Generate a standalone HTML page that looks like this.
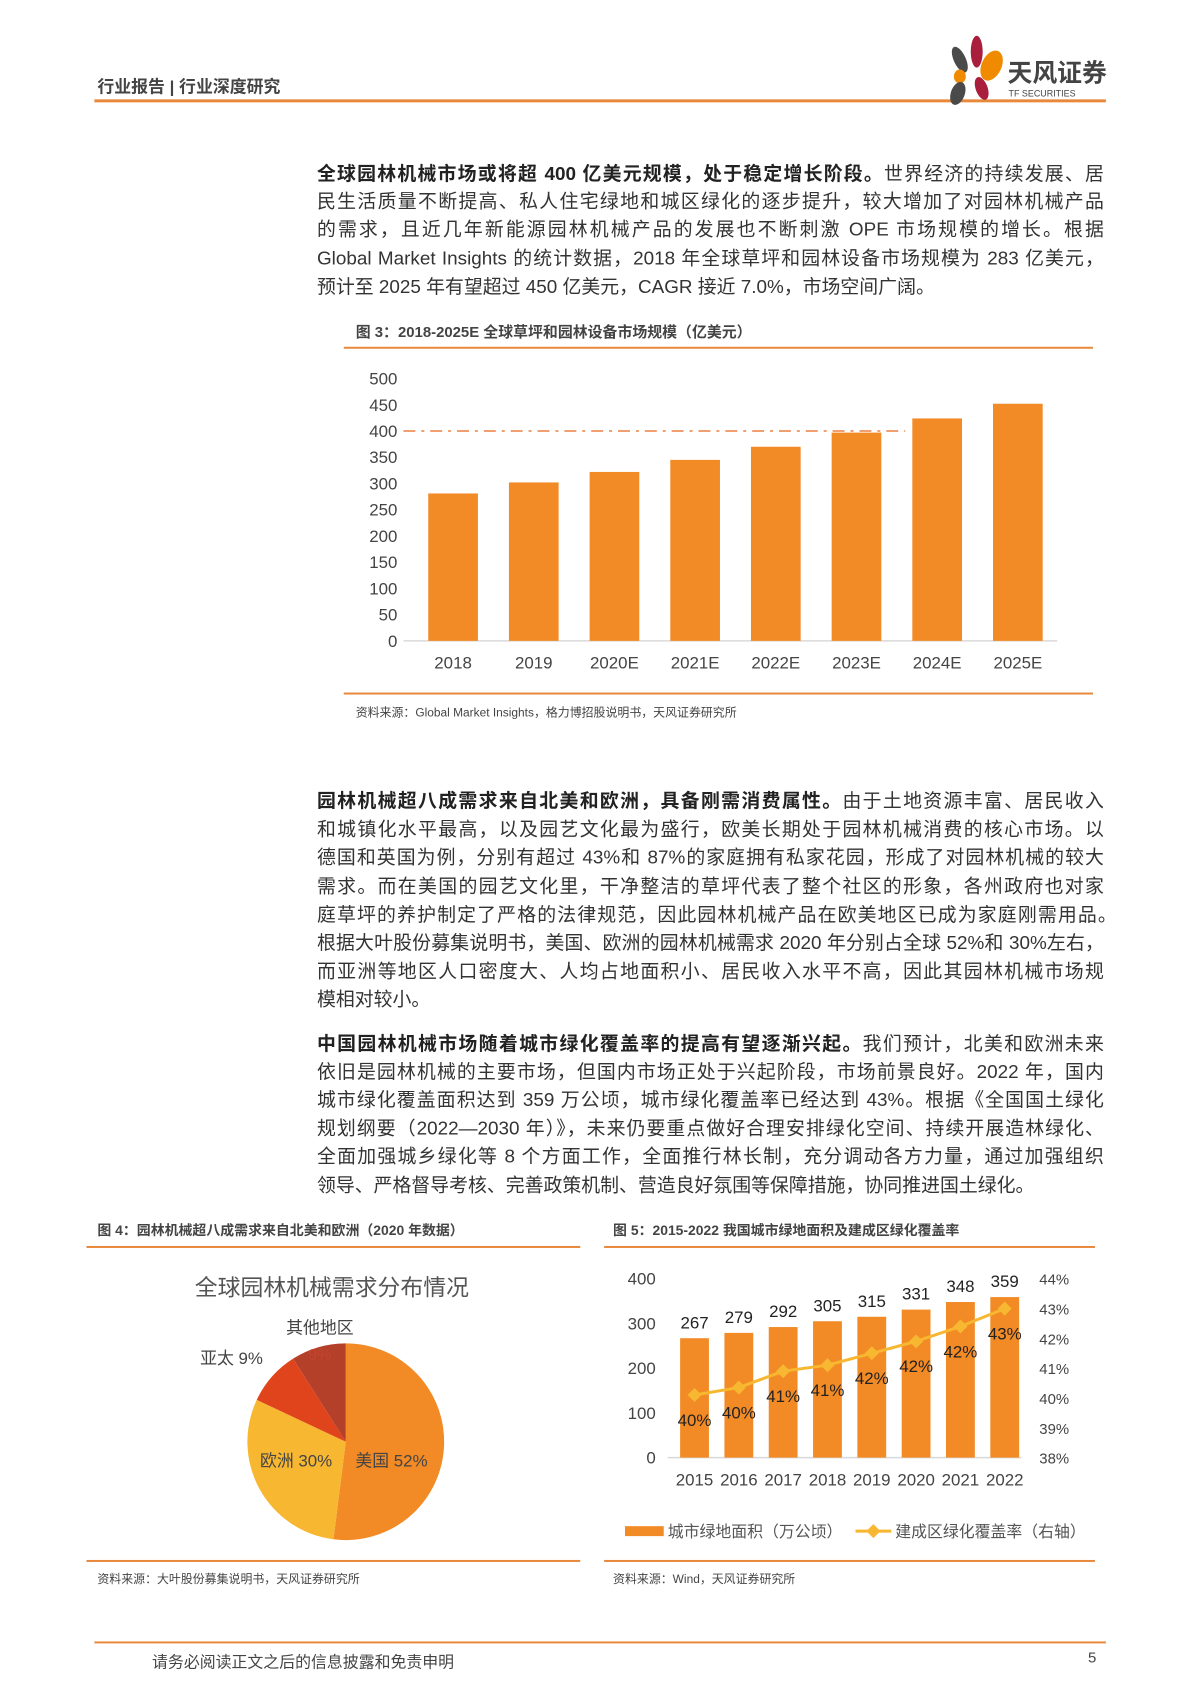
<!DOCTYPE html>
<html><head><meta charset="utf-8">
<style>
html,body{margin:0;padding:0;background:#fff;}
body{width:1200px;height:1698px;position:relative;overflow:hidden;font-family:"Liberation Sans","Noto Sans CJK SC",sans-serif;color:#333;}
#wrap{position:absolute;left:0;top:0;width:1200px;height:1698px;transform:scale(0.9936);transform-origin:0 0;}
.ln{position:absolute;left:319px;width:792px;height:28px;line-height:28px;font-size:19px;text-align:justify;text-align-last:justify;white-space:nowrap;}
.ln.last{text-align-last:left;}
b{font-weight:bold;color:#222;}
.abs{position:absolute;white-space:nowrap;}
svg{position:absolute;left:0;top:0;}
</style></head>
<body>
<div id="wrap">
<div class="abs" style="left:98px;top:73px;font-size:17px;font-weight:bold;color:#444;">行业报告 | 行业深度研究</div>
<div class="abs" style="left:95px;top:100px;width:1018px;height:3px;background:#E8883A;"></div>
<svg width="1200" height="120" style="pointer-events:none">
<ellipse cx="966" cy="60" rx="6" ry="14" fill="#4a4a4a" transform="rotate(-25 966 60)"/>
<ellipse cx="983" cy="52" rx="6" ry="16" fill="#A81E3C"/>
<ellipse cx="998" cy="66" rx="10" ry="16" fill="#F08A00" transform="rotate(25 998 66)"/>
<ellipse cx="966" cy="77" rx="6" ry="7" fill="#F08A00"/>
<ellipse cx="964" cy="94" rx="7" ry="12" fill="#4a4a4a" transform="rotate(20 964 94)"/>
<ellipse cx="988" cy="89" rx="6" ry="12" fill="#A81E3C" transform="rotate(-20 988 89)"/>
<text x="1014" y="82" font-size="25" font-weight="bold" fill="#444" font-family="Liberation Sans, Noto Sans CJK SC, sans-serif">天风证券</text>
<text x="1015" y="97" font-size="9" fill="#444" font-family="Liberation Sans, sans-serif">TF SECURITIES</text>
</svg>

<div>
<div class="ln" style="top:162px"><b>全球园林机械市场或将超 400 亿美元规模，处于稳定增长阶段。</b>世界经济的持续发展、居</div>
<div class="ln" style="top:190px">民生活质量不断提高、私人住宅绿地和城区绿化的逐步提升，较大增加了对园林机械产品</div>
<div class="ln" style="top:218px">的需求，且近几年新能源园林机械产品的发展也不断刺激 OPE 市场规模的增长。根据</div>
<div class="ln" style="top:247px">Global Market Insights 的统计数据，2018 年全球草坪和园林设备市场规模为 283 亿美元，</div>
<div class="ln last" style="top:276px">预计至 2025 年有望超过 450 亿美元，CAGR 接近 7.0%，市场空间广阔。</div>
</div>

<div class="abs" style="left:358px;top:323px;font-size:15px;font-weight:bold;color:#444;">图 3：2018-2025E 全球草坪和园林设备市场规模（亿美元）</div>
<div class="abs" style="left:346px;top:349px;width:754px;height:2px;background:#E8883A;"></div>
<div class="abs" style="left:346px;top:697px;width:754px;height:2px;background:#E8883A;"></div>
<div class="abs" style="left:358px;top:708px;font-size:12px;color:#444;">资料来源：Global Market Insights，格力博招股说明书，天风证券研究所</div>

<div>
<div class="ln" style="top:793px"><b>园林机械超八成需求来自北美和欧洲，具备刚需消费属性。</b>由于土地资源丰富、居民收入</div>
<div class="ln" style="top:822px">和城镇化水平最高，以及园艺文化最为盛行，欧美长期处于园林机械消费的核心市场。以</div>
<div class="ln" style="top:850px">德国和英国为例，分别有超过 43%和 87%的家庭拥有私家花园，形成了对园林机械的较大</div>
<div class="ln" style="top:879px">需求。而在美国的园艺文化里，干净整洁的草坪代表了整个社区的形象，各州政府也对家</div>
<div class="ln" style="top:908px;width:805px">庭草坪的养护制定了严格的法律规范，因此园林机械产品在欧美地区已成为家庭刚需用品。</div>
<div class="ln" style="top:936px">根据大叶股份募集说明书，美国、欧洲的园林机械需求 2020 年分别占全球 52%和 30%左右，</div>
<div class="ln" style="top:965px">而亚洲等地区人口密度大、人均占地面积小、居民收入水平不高，因此其园林机械市场规</div>
<div class="ln last" style="top:993px">模相对较小。</div>
</div>

<div>
<div class="ln" style="top:1038px"><b>中国园林机械市场随着城市绿化覆盖率的提高有望逐渐兴起。</b>我们预计，北美和欧洲未来</div>
<div class="ln" style="top:1066px">依旧是园林机械的主要市场，但国内市场正处于兴起阶段，市场前景良好。2022 年，国内</div>
<div class="ln" style="top:1094px">城市绿化覆盖面积达到 359 万公顷，城市绿化覆盖率已经达到 43%。根据《全国国土绿化</div>
<div class="ln" style="top:1123px">规划纲要（2022—2030 年）》，未来仍要重点做好合理安排绿化空间、持续开展造林绿化、</div>
<div class="ln" style="top:1151px">全面加强城乡绿化等 8 个方面工作，全面推行林长制，充分调动各方力量，通过加强组织</div>
<div class="ln last" style="top:1180px">领导、严格督导考核、完善政策机制、营造良好氛围等保障措施，协同推进国土绿化。</div>
</div>

<div class="abs" style="left:98px;top:1228px;font-size:14px;font-weight:bold;color:#444;">图 4：园林机械超八成需求来自北美和欧洲（2020 年数据）</div>
<div class="abs" style="left:87px;top:1254px;width:497px;height:2px;background:#E8883A;"></div>
<div class="abs" style="left:617px;top:1228px;font-size:14px;font-weight:bold;color:#444;">图 5：2015-2022 我国城市绿地面积及建成区绿化覆盖率</div>
<div class="abs" style="left:608px;top:1254px;width:494px;height:2px;background:#E8883A;"></div>
<div class="abs" style="left:87px;top:1570px;width:497px;height:2px;background:#E8883A;"></div>
<div class="abs" style="left:608px;top:1570px;width:494px;height:2px;background:#E8883A;"></div>
<div class="abs" style="left:98px;top:1580px;font-size:12px;color:#444;">资料来源：大叶股份募集说明书，天风证券研究所</div>
<div class="abs" style="left:617px;top:1580px;font-size:12px;color:#444;">资料来源：Wind，天风证券研究所</div>

<div class="abs" style="left:95px;top:1652px;width:1018px;height:2px;background:#E8883A;"></div>
<div class="abs" style="left:153px;top:1659px;font-size:16px;color:#444;">请务必阅读正文之后的信息披露和免责申明</div>
<div class="abs" style="left:1095px;top:1660px;font-size:15px;color:#444;">5</div>

<svg id="charts" width="1200" height="1698" font-family="Liberation Sans, Noto Sans CJK SC, sans-serif"></svg>
</div>

<script>
// Figure 3 data
const f3Categories = ["2018","2019","2020E","2021E","2022E","2023E","2024E","2025E"];
const f3Values = [281, 302, 322, 345, 370, 397, 424, 452];
const f3Ticks = [0,50,100,150,200,250,300,350,400,450,500];
const f3RefLine = 400;
// Figure 4 data
const f4Labels = ["美国","欧洲","亚太","其他地区"];
const f4Values = [52, 30, 9, 9];
// Figure 5 data
const f5Categories = ["2015","2016","2017","2018","2019","2020","2021","2022"];
const f5Area = [267, 279, 292, 305, 315, 331, 348, 359];
const f5Rate = [40.1, 40.35, 40.9, 41.1, 41.5, 41.9, 42.4, 43.0];
const f5LeftTicks = [0,100,200,300,400];
const f5RightTicks = [38,39,40,41,42,43,44];

const svg = document.getElementById('charts');
const NS = 'http://www.w3.org/2000/svg';
function mk(tag, attrs, parent){const e=document.createElementNS(NS,tag);for(const k in attrs)e.setAttribute(k,attrs[k]);(parent||svg).appendChild(e);return e;}
const ORANGE = '#F28A25';

// ---- Figure 3 ----
const g3 = mk('g',{});


const y3 = v => 645 - v/500*(645-381);
const x3 = i => 456 + i*81.2;
f3Ticks.forEach(t=>{
  const tx = mk('text',{x:400,y:y3(t)+6,'text-anchor':'end','font-size':17,fill:'#444'},g3);
  tx.textContent = t;
  
  
});
const base3 = mk('line',{x1:406,x2:1064,y1:y3(0),y2:y3(0),stroke:'#d9d9d9','stroke-width':1.5},g3);


f3Values.forEach((v,i)=>{
  const r = mk('rect',{x:x3(i)-25,y:y3(v),width:50,height:y3(0)-y3(v),fill:ORANGE},g3);
  
  
  const t = mk('text',{x:x3(i),y:673,'text-anchor':'middle','font-size':17,fill:'#444'},g3);
  t.textContent = f3Categories[i];
  
  
});
const ref = mk('line',{x1:406,x2:911,y1:y3(f3RefLine),y2:y3(f3RefLine),stroke:'#F0A070','stroke-width':2,'stroke-dasharray':'12,6,3,6'},g3);



// ---- Figure 4 pie ----
const g4 = mk('g',{});


const pt = mk('text',{x:334,y:1304,'text-anchor':'middle','font-size':23,fill:'#555'},g4);
pt.textContent = '全球园林机械需求分布情况';


const cx=348, cy=1451, R=99;
const pieColors = ['#F28A25','#F7B731','#E0441C','#B5402A'];
const total = f4Values.reduce((a,b)=>a+b,0);
let acc = 0;
f4Values.forEach((v,i)=>{
  const a0 = acc/total*2*Math.PI; acc += v; const a1 = acc/total*2*Math.PI;
  const p0=[cx+R*Math.sin(a0), cy-R*Math.cos(a0)], p1=[cx+R*Math.sin(a1), cy-R*Math.cos(a1)];
  const large = (a1-a0)>Math.PI?1:0;
  const s = mk('path',{d:`M${cx},${cy} L${p0[0]},${p0[1]} A${R},${R} 0 ${large} 1 ${p1[0]},${p1[1]} Z`,fill:pieColors[i]},g4);
  
  
});
function lbl(txt,x,y,size,fill,name){const t=mk('text',{x:x,y:y,'text-anchor':'middle','font-size':size,fill:fill},g4);t.textContent=txt;}
lbl(f4Labels[0]+' '+f4Values[0]+'%',394,1476,17,'#444','label-usa');
lbl(f4Labels[1]+' '+f4Values[1]+'%',298,1476,17,'#444','label-europe');
lbl(f4Labels[2]+' '+f4Values[2]+'%',233,1373,17,'#444','label-asia-pacific');
lbl(f4Labels[3],322,1342,17,'#444','label-other');
lbl(f4Values[3]+'%',322,1369,16,'#C2452F','label-other-pct');

// ---- Figure 5 ----
const g5 = mk('g',{});


const yL = v => 1467 - v/400*(1467-1287);
const yR = v => 1467 - (v-38)/6*(1467-1287);
const x5 = i => 699 + i*44.6;
f5LeftTicks.forEach(t=>{
  const tx=mk('text',{x:660,y:yL(t)+6,'text-anchor':'end','font-size':17,fill:'#444'},g5);
  tx.textContent=t;
  
  
});
f5RightTicks.forEach(t=>{
  const tx=mk('text',{x:1046,y:yR(t)+6,'font-size':15,fill:'#444'},g5);
  tx.textContent=t+'%';
  
  
});
const b5=mk('line',{x1:672,x2:1028,y1:yL(0),y2:yL(0),stroke:'#d9d9d9','stroke-width':1.5},g5);


f5Area.forEach((v,i)=>{
  const r=mk('rect',{x:x5(i)-14.5,y:yL(v),width:29,height:yL(0)-yL(v),fill:ORANGE},g5);
  
  
  const t=mk('text',{x:x5(i),y:yL(v)-10,'text-anchor':'middle','font-size':17,fill:'#222'},g5);
  t.textContent=v;
  
  
  const xl=mk('text',{x:x5(i),y:1495,'text-anchor':'middle','font-size':17,fill:'#444'},g5);
  xl.textContent=f5Categories[i];
  
  
});
const pts = f5Rate.map((v,i)=>x5(i)+','+yR(v)).join(' ');
const pl=mk('polyline',{points:pts,fill:'none',stroke:'#F7B731','stroke-width':3},g5);


f5Rate.forEach((v,i)=>{
  const d=mk('rect',{x:x5(i)-5,y:yR(v)-5,width:10,height:10,fill:'#F7B731',transform:`rotate(45 ${x5(i)} ${yR(v)})`},g5);
  
  
  const t=mk('text',{x:x5(i),y:yR(v)+31,'text-anchor':'middle','font-size':17,fill:'#222'},g5);
  t.textContent=Math.round(v)+'%';
  
  
});
// legend
const lg=mk('g',{},g5);


const lr=mk('rect',{x:629,y:1536,width:39,height:10,fill:ORANGE},lg);


const lt1=mk('text',{x:672,y:1547,'font-size':16,fill:'#555'},lg);
lt1.textContent='城市绿地面积（万公顷）';


const ll=mk('line',{x1:861,x2:897,y1:1541,y2:1541,stroke:'#F7B731','stroke-width':3},lg);


const ld=mk('rect',{x:874,y:1536,width:10,height:10,fill:'#F7B731',transform:'rotate(45 879 1541)'},lg);


const lt2=mk('text',{x:901,y:1547,'font-size':16,fill:'#555'},lg);
lt2.textContent='建成区绿化覆盖率（右轴）';


</script>
</body></html>
